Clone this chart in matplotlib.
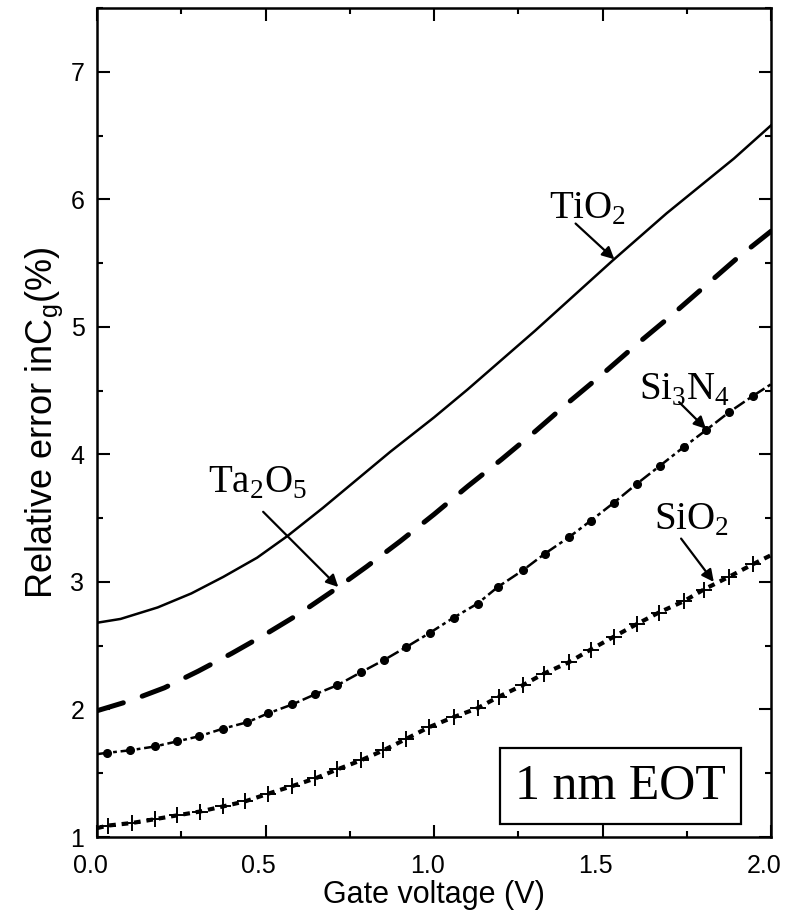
"""Relative error in gate capacitance vs gate voltage for several gate dielectrics."""

import matplotlib
matplotlib.use("Agg")
import matplotlib.pyplot as plt
from matplotlib.ticker import MultipleLocator, FuncFormatter
from matplotlib.transforms import ScaledTranslation

plt.rcParams['font.family'] = ['Liberation Sans', 'DejaVu Sans']
plt.rcParams['mathtext.fontset'] = 'custom'
plt.rcParams['mathtext.rm'] = 'Liberation Serif'
plt.rcParams['mathtext.sf'] = 'Liberation Sans'

# TiO2 (solid line)
tio2_v = [0.0, 0.07, 0.18, 0.28, 0.375, 0.475, 0.565, 0.67, 0.77, 0.87,
          1.0, 1.1, 1.3, 1.53, 1.69, 1.89, 2.0]
tio2_err = [2.68, 2.71, 2.80, 2.91, 3.04, 3.19, 3.36, 3.58, 3.80, 4.02,
            4.29, 4.51, 4.97, 5.52, 5.89, 6.32, 6.58]

# Ta2O5 (long dashes)
ta2o5_v = [0.0, 0.1, 0.2, 0.3, 0.4, 0.5, 0.6, 0.7, 0.8, 0.9, 1.0,
           1.1, 1.2, 1.3, 1.4, 1.5, 1.6, 1.7, 1.8, 1.9, 2.0]
ta2o5_err = [1.99, 2.07, 2.17, 2.30, 2.44, 2.59, 2.75, 2.93, 3.12, 3.32, 3.53,
             3.75, 3.96, 4.18, 4.41, 4.63, 4.86, 5.08, 5.31, 5.54, 5.75]

# Si3N4 (dash-dot with dots)
si3n4_v = [0.0, 0.03, 0.098, 0.172, 0.238, 0.303, 0.374, 0.446, 0.508, 0.580,
           0.648, 0.713, 0.782, 0.853, 0.918, 0.987, 1.058, 1.129, 1.189, 1.263,
           1.328, 1.400, 1.465, 1.533, 1.602, 1.670, 1.742, 1.807, 1.875, 1.947, 2.0]
si3n4_err = [1.65, 1.66, 1.68, 1.71, 1.75, 1.79, 1.85, 1.90, 1.97, 2.04,
             2.12, 2.19, 2.29, 2.39, 2.49, 2.60, 2.72, 2.83, 2.96, 3.09,
             3.22, 3.35, 3.48, 3.62, 3.77, 3.91, 4.06, 4.19, 4.33, 4.46, 4.55]

# SiO2 (dotted with crosses)
sio2_v = [0.0, 0.033, 0.104, 0.172, 0.238, 0.306, 0.374, 0.44, 0.508, 0.58,
          0.648, 0.713, 0.782, 0.85, 0.918, 0.984, 1.058, 1.129, 1.192, 1.263,
          1.325, 1.40, 1.465, 1.533, 1.602, 1.667, 1.742, 1.80, 1.875, 1.947, 2.0]
sio2_err = [1.07, 1.09, 1.11, 1.14, 1.17, 1.20, 1.24, 1.28, 1.34, 1.40,
            1.46, 1.53, 1.60, 1.68, 1.77, 1.86, 1.94, 2.01, 2.10, 2.19,
            2.28, 2.37, 2.47, 2.57, 2.67, 2.76, 2.85, 2.94, 3.04, 3.14, 3.21]

# label text, label anchor (x, y), arrow tail, arrow head
labels = [
    (r'TiO$_\mathregular{2}$', (1.456, 5.85), (1.42, 5.81), (1.535, 5.53)),
    (r'Ta$_\mathregular{2}$O$_\mathregular{5}$', (0.475, 3.70), (0.493, 3.55), (0.716, 2.96)),
    (r'Si$_\mathregular{3}$N$_\mathregular{4}$', (1.742, 4.43), (1.727, 4.41), (1.807, 4.20)),
    (r'SiO$_\mathregular{2}$', (1.765, 3.41), (1.733, 3.34), (1.83, 3.00)),
]


def main():
    fig = plt.figure(figsize=(7.86, 9.19), dpi=100)
    ax = fig.add_axes([0.1234, 0.0892, 0.8576, 0.9021])

    ax.plot(tio2_v, tio2_err, color='k', lw=1.8)
    ax.plot(ta2o5_v, ta2o5_err, color='k', lw=3.6, dashes=(5.5, 4.0),
            dash_capstyle='round')
    ax.plot(si3n4_v, si3n4_err, color='k', lw=1.8, dashes=(5, 1.5, 1.5, 1.5),
            marker='o', ms=5.5, markevery=list(range(1, len(si3n4_v) - 1)))
    ax.plot(sio2_v, sio2_err, color='k', lw=3.0, dashes=(1.6, 1.4),
            marker='+', ms=12, mew=1.4, markevery=list(range(1, len(sio2_v) - 1)))

    for text, pos, tail, head in labels:
        ax.text(pos[0], pos[1], text, ha='center', va='baseline',
                fontsize=28, family='Liberation Serif')
        ax.annotate('', xy=head, xytext=tail,
                    arrowprops=dict(arrowstyle='-|>', color='k', lw=1.6,
                                    mutation_scale=18, shrinkA=0, shrinkB=0))

    ax.text(1.554, 1.40, '1 nm EOT', ha='center', va='center', fontsize=36,
            family='Liberation Serif',
            bbox=dict(boxstyle='square,pad=0.3', fc='white', ec='k', lw=1.6))

    ax.set_xlim(0, 2.0)
    ax.set_ylim(1, 7.5)
    ax.xaxis.set_major_locator(MultipleLocator(0.5))
    ax.xaxis.set_minor_locator(MultipleLocator(0.25))
    ax.yaxis.set_major_locator(MultipleLocator(1))
    ax.yaxis.set_minor_locator(MultipleLocator(0.5))
    ax.xaxis.set_major_formatter(FuncFormatter(lambda v, p: f'{v:.1f}'))
    ax.yaxis.set_major_formatter(FuncFormatter(lambda v, p: f'{v:.0f}'))

    ax.tick_params(which='both', direction='in', top=True, right=True,
                   width=1.5, labelsize=18)
    ax.tick_params(which='major', length=9)
    ax.tick_params(which='minor', length=4.5)
    ax.tick_params(axis='x', which='major', pad=12)
    ax.tick_params(axis='y', which='major', pad=9)
    for side in ax.spines.values():
        side.set_linewidth(1.8)

    # nudge the x tick labels a little to the left
    shift = ScaledTranslation(-7 / 100, 0, fig.dpi_scale_trans)
    for lbl in ax.get_xticklabels():
        lbl.set_transform(lbl.get_transform() + shift)

    ax.set_xlabel('Gate voltage (V)', fontsize=22, labelpad=2)
    ax.set_ylabel(r'Relative error inC$_\mathsf{g}$(%)', fontsize=26, labelpad=4)

    fig.savefig('out.png', dpi=100)


if __name__ == "__main__":
    main()
